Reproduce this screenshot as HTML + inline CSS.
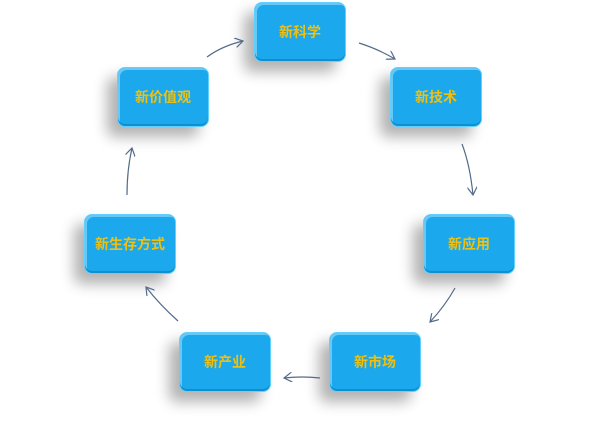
<!DOCTYPE html>
<html><head><meta charset="utf-8"><style>
html,body{margin:0;padding:0;background:#fff;width:600px;height:421px;overflow:hidden;position:relative}
.b{position:absolute;width:92px;height:60px;border-radius:8px;background:#1ba8ec;border:1px solid #5fd0ff;box-sizing:border-box;
box-shadow:-10px 10px 14px rgba(0,0,0,0.3), inset 0 -2px 0 #0d8fd0, inset 2px 2px 0 rgba(255,255,255,0.35);
display:flex;align-items:center;justify-content:center;color:#f0c010;font:bold 14px "Liberation Sans","Noto Sans CJK SC",sans-serif}
svg{position:absolute;left:0;top:0}
</style></head><body>
<div class="b" style="left:254px;top:2px">新科学</div>
<div class="b" style="left:390px;top:67px">新技术</div>
<div class="b" style="left:423px;top:214px">新应用</div>
<div class="b" style="left:329px;top:332px">新市场</div>
<div class="b" style="left:179px;top:332px">新产业</div>
<div class="b" style="left:84px;top:214px">新生存方式</div>
<div class="b" style="left:117px;top:67px">新价值观</div>
<svg width="600" height="421"><defs><marker id="a" markerWidth="10" markerHeight="10" refX="8" refY="5" orient="auto" markerUnits="userSpaceOnUse"><path d="M0,0 L8,5 L0,10" fill="none" stroke="#556b8a" stroke-width="1.2"/></marker></defs>
<g fill="none" stroke="#556b8a" stroke-width="1.2" marker-end="url(#a)">
<path d="M207,57 Q222,46 243,41"/>
<path d="M359,43 Q378,49 395,59"/>
<path d="M462,144 Q470,165 473,195"/>
<path d="M455,288 Q445,306 430,322"/>
<path d="M320,378 Q302,376 284,378"/>
<path d="M178,321 Q160,305 146,287"/>
<path d="M127,195 Q127,170 132,148"/>
</g></svg>
</body></html>
